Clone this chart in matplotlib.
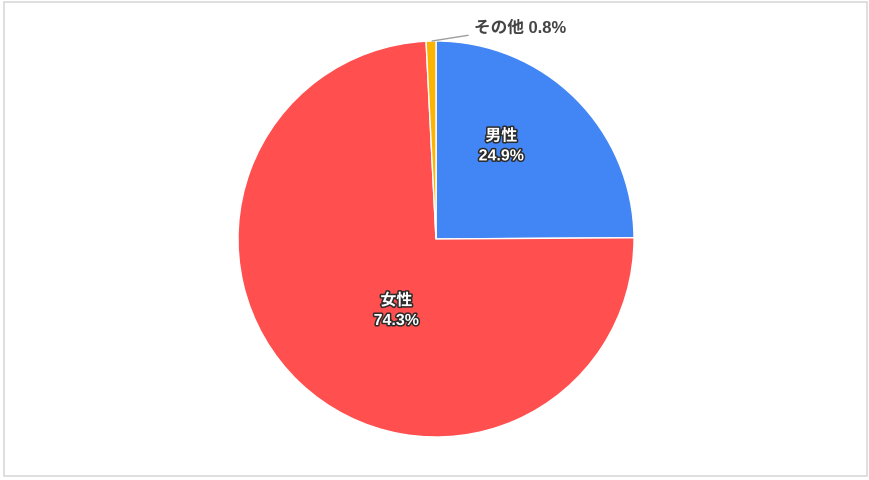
import matplotlib.pyplot as plt
import matplotlib.patheffects as pe
from matplotlib.patches import Rectangle

plt.rcParams['font.family'] = ['Liberation Sans', 'Noto Sans CJK JP', 'DejaVu Sans']

labels = ['男性', '女性', 'その他']
values = [24.9, 74.3, 0.8]
colors = ['#4285f4', '#ff4f4f', '#fbb400']

W, H = 870, 481
fig = plt.figure(figsize=(W / 100, H / 100), dpi=100)

# light frame around the picture
fig.patches.append(Rectangle((4 / W, 4 / H), 863 / W, 474 / H, transform=fig.transFigure,
                             fill=False, edgecolor='#d9d9d9', linewidth=1.2))

cx, cy, r = 436, 240, 198
ax = fig.add_axes([(cx - r) / W, (H - cy - r) / H, 2 * r / W, 2 * r / H])
wedges, _ = ax.pie(values, colors=colors, startangle=90, counterclock=False,
                   radius=1, wedgeprops=dict(edgecolor='white', linewidth=1))
ax.set_xlim(-1, 1)
ax.set_ylim(-1, 1)
ax.set_aspect('equal')
ax.axis('off')

stroke = [pe.withStroke(linewidth=2.2, foreground='#2b2b2b')]
inner_pos = {'男性': (0.33, 0.47), '女性': (-0.20, -0.36)}
for lab, v in zip(labels[:2], values[:2]):
    x, y = inner_pos[lab]
    ax.text(x, y, f'{lab}\n{v:.1f}%', ha='center', va='center', color='white',
            fontsize=11.5, fontweight='bold', linespacing=1.4, path_effects=stroke)

# outside label for the tiny slice
ax.annotate(f'{labels[2]} {values[2]:.1f}%', xy=(-0.02, 1.0), xytext=(0.19, 1.07),
            ha='left', va='center', color='#444444', fontsize=12, fontweight='bold',
            arrowprops=dict(arrowstyle='-', color='#9e9e9e', linewidth=1,
                            shrinkA=2, shrinkB=0),
            annotation_clip=False)

fig.savefig('out.png', dpi=100)
